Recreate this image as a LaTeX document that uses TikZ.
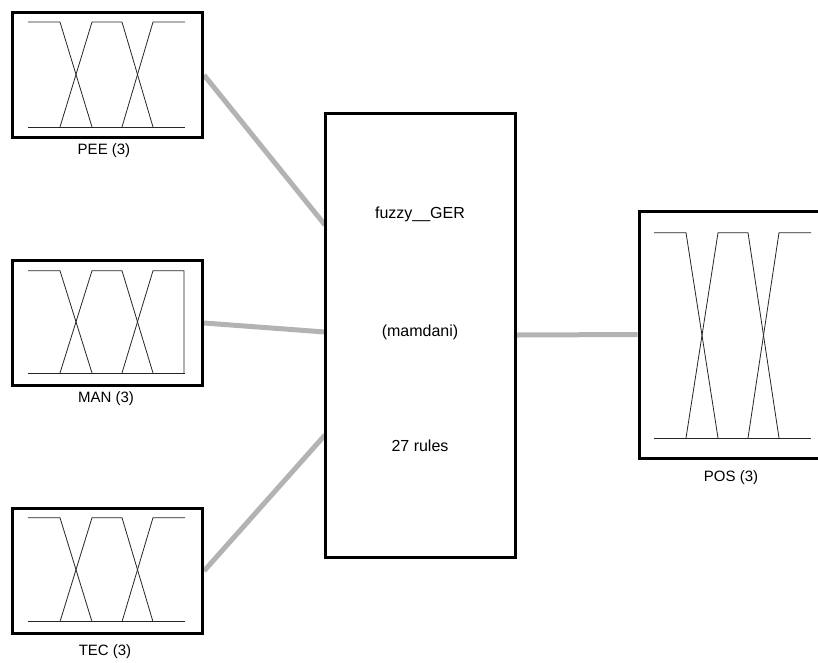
\documentclass[tikz,border=0pt]{standalone}
\usepackage{fontspec}
\setmainfont{Liberation Sans}
\usetikzlibrary{backgrounds}
\definecolor{connGray}{HTML}{B3B3B3}
\tikzset{
  mfbox/.style={draw, line width=3pt, fill=white, inner sep=0pt, minimum width=190pt, minimum height=125pt},
  fisbox/.style={draw, line width=3pt, fill=white, inner sep=0pt, minimum width=190pt, minimum height=444pt},
  conn/.style={draw=connGray, line width=5pt},
  mf/.style={line width=0.8pt, black!85},
  lab/.style={font=\fontsize{15}{18}\selectfont, inner sep=0pt},
  fistext/.style={font=\fontsize{16}{19}\selectfont, inner sep=0pt},
}
% three trapezoid membership functions: #1 x offset, #2 top y, #3 bottom y
\newcommand\mfthree[3]{%
  \draw[mf] (#1+28,#3) -- (#1+185,#3);
  \draw[mf] (#1+28,#2) -- (#1+60,#2) -- (#1+92,#3);
  \draw[mf] (#1+60,#3) -- (#1+92,#2) -- (#1+122,#2) -- (#1+153,#3);
  \draw[mf] (#1+122,#3) -- (#1+153,#2) -- (#1+185,#2);
}
\begin{document}
\begin{tikzpicture}[x=1pt,y=-1pt]
\useasboundingbox (0,0) rectangle (818,662);
\clip (0,0) rectangle (818,662);

% boxes
\node[mfbox] (pee) at (107.5,75) {};
\node[mfbox] (man) at (107.5,323) {};
\node[mfbox] (tec) at (107.5,571) {};
\node[fisbox] (fis) at (420,335) {};
\node[mfbox, minimum height=247pt] (pos) at (734,334.5) {};

% connector end points on the rule box
\coordinate (fisA) at (325,225);
\coordinate (fisB) at (325,332);
\coordinate (fisC) at (325,435);

\begin{scope}[on background layer]
  \draw[conn] (pee.east) -- (fisA);
  \draw[conn] (man.east) -- (fisB);
  \draw[conn] (tec.east) -- (fisC);
  \draw[conn] (fis.east) -- (pos.west);
\end{scope}

% membership functions
\mfthree{0}{22}{127}
\draw[mf] (28,373) -- (185,373);
\draw[mf] (28,270.7) -- (60,270.7) -- (92,373);
\draw[mf] (60,373) -- (92,270.7) -- (122,270.7) -- (153,373);
\draw[mf] (122,373) -- (153,270.7) -- (184,270.7) -- (184,373);
\mfthree{0}{517.7}{621.7}
\mfthree{626}{232.7}{438}

% texts
\node[fistext] (fisname) at (420,214) {fuzzy\_\_GER};
\node[fistext] (fistype) at (420,332) {(mamdani)};
\node[fistext] (fisrules) at (420,446) {27 rules};

\node[lab] (peelab) at (104,151) {PEE (3)};
\node[lab] (manlab) at (106,399) {MAN (3)};
\node[lab] (teclab) at (105,652) {TEC (3)};
\node[lab] (poslab) at (731,478) {POS (3)};
\end{tikzpicture}
\end{document}
